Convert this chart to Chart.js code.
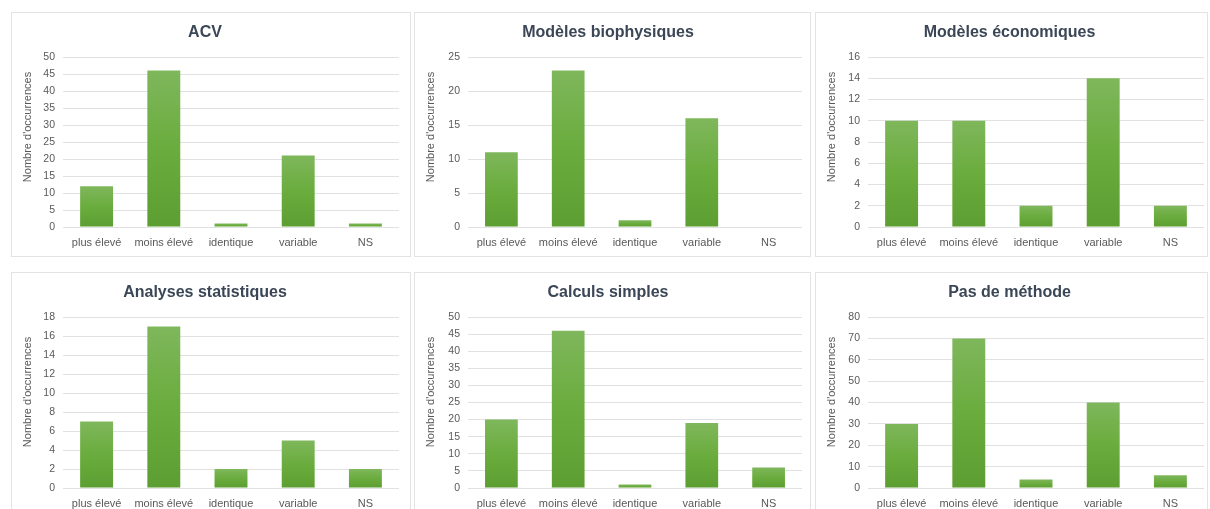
<!DOCTYPE html>
<html>
<head>
<meta charset="utf-8">
<script src="https://cdn.jsdelivr.net/npm/chart.js@4/dist/chart.umd.min.js"></script>
<style>
  html, body { margin: 0; padding: 0; background: #ffffff; width: 1210px; height: 509px; overflow: hidden; position: relative; }
  .panel { position: absolute; box-sizing: border-box; border: 1px solid #e3e3e3; }
  canvas { position: absolute; }
</style>
</head>
<body>
<script>
// ---- Data ----
const categories = ["plus élevé", "moins élevé", "identique", "variable", "NS"];
const titles = ["ACV", "Modèles biophysiques", "Modèles économiques", "Analyses statistiques", "Calculs simples", "Pas de méthode"];
const acv = [12, 46, 1, 21, 1];
const biophysiques = [11, 23, 1, 16, 0];
const economiques = [10, 10, 2, 14, 2];
const statistiques = [7, 17, 2, 5, 2];
const calculs = [20, 46, 1, 19, 6];
const pasDeMethode = [30, 70, 4, 40, 6];
const yMax = [50, 25, 16, 18, 50, 80];
const yStep = [5, 5, 2, 2, 5, 10];
const yTitle = "Nombre d'occurrences";

const seriesList = [acv, biophysiques, economiques, statistiques, calculs, pasDeMethode];

// ---- Layout (panels and plot areas, absolute px) ----
const panelLeft = [11, 414, 815];
const panelRight = [411, 811, 1208];
const panelTop = [12, 272];
const panelBottom = [257, 512];
const plotLeft = [63, 468, 868];
const plotRight = [399, 802, 1204];
const plotTop = [57, 317];
const plotBottom = [227, 488];
const axisTitleCenterY = [127, 392];
const axisTitleCenterX = 17;

const FONT = "'Liberation Sans', Arial, sans-serif";
const TEXT = '#595959';

function barGradient(ctx) {
  const chart = ctx.chart;
  const ys = chart.scales && chart.scales.y;
  if (!chart.chartArea || !ys || ctx.dataIndex === undefined) return '#6aab3c';
  const v = ctx.raw || 0;
  const top = ys.getPixelForValue(v);
  const bot = ys.getPixelForValue(0);
  if (!(bot - top > 0.5)) return '#64a537';
  const g = chart.ctx.createLinearGradient(0, top, 0, bot);
  g.addColorStop(0, '#7fb75c');
  g.addColorStop(0.5, '#6aac3d');
  g.addColorStop(1, '#5c9e31');
  return g;
}

const axisTitlePlugin = {
  id: 'axisTitlePlugin',
  afterDraw(chart, args, opts) {
    const ctx = chart.ctx;
    ctx.save();
    ctx.translate(opts.x, opts.y);
    ctx.rotate(-Math.PI / 2);
    ctx.fillStyle = TEXT;
    ctx.font = '11px ' + FONT;
    ctx.textAlign = 'center';
    ctx.textBaseline = 'middle';
    ctx.fillText(opts.text, 0, 0);
    ctx.restore();
  }
};

for (let i = 0; i < 6; i++) {
  const col = i % 3, row = Math.floor(i / 3);
  const L = panelLeft[col], T = panelTop[row];
  const W = panelRight[col] - L, H = panelBottom[row] - T;

  const p = document.createElement('div');
  p.className = 'panel';
  p.style.left = L + 'px'; p.style.top = T + 'px';
  p.style.width = W + 'px'; p.style.height = H + 'px';
  document.body.appendChild(p);

  const c = document.createElement('canvas');
  c.style.left = L + 'px'; c.style.top = T + 'px';
  c.style.width = W + 'px'; c.style.height = H + 'px';
  c.width = W; c.height = H;
  document.body.appendChild(c);

  const yWidth = plotLeft[col] - L;
  const rightPad = (L + W) - plotRight[col];
  const titleH = plotTop[row] - T;
  const xHeight = (T + H) - plotBottom[row];
  const titleCenter = 21;
  const titleLH = 19.2;
  const tPadTop = titleCenter - titleLH / 2;
  const tPadBot = titleH - tPadTop - titleLH;

  new Chart(c, {
    type: 'bar',
    data: {
      labels: categories,
      datasets: [{
        data: seriesList[i],
        backgroundColor: barGradient,
        borderWidth: 0,
        barPercentage: 0.49,
        categoryPercentage: 1.0
      }]
    },
    plugins: [axisTitlePlugin],
    options: {
      responsive: false,
      animation: false,
      devicePixelRatio: 1,
      layout: { padding: { left: 0, right: rightPad, top: 0, bottom: 0 } },
      plugins: {
        legend: { display: false },
        tooltip: { enabled: false },
        title: {
          display: true,
          text: titles[i],
          color: '#3b4656',
          font: { family: FONT, size: 16, weight: 'bold', lineHeight: 1.2 },
          padding: { top: tPadTop, bottom: tPadBot }
        },
        axisTitlePlugin: {
          text: yTitle,
          x: axisTitleCenterX,
          y: axisTitleCenterY[row] - T
        }
      },
      scales: {
        x: {
          grid: { display: false, drawTicks: false },
          border: { display: false },
          ticks: { color: TEXT, font: { family: FONT, size: 11 }, padding: 9, maxRotation: 0, autoSkip: false },
          afterFit: (s) => { s.height = xHeight; }
        },
        y: {
          min: 0,
          max: yMax[i],
          grid: { color: '#e1e1e1', lineWidth: 1, drawTicks: false },
          border: { display: false },
          ticks: { stepSize: yStep[i], color: TEXT, font: { family: FONT, size: 10.5 }, padding: 8 },
          afterFit: (s) => { s.width = yWidth; }
        }
      }
    }
  });
}
</script>
</body>
</html>
